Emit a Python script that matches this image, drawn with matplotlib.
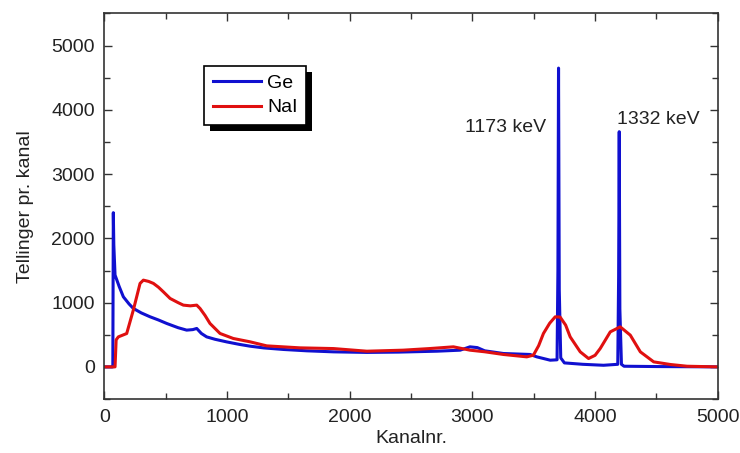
import matplotlib.pyplot as plt
from matplotlib.ticker import MultipleLocator
from matplotlib.patches import Rectangle

plt.rcParams['font.family'] = ['Liberation Sans', 'DejaVu Sans']

# Ge-Detektor
ge_kanal = [0, 60, 68, 72, 76, 86, 120, 154, 200, 235, 300, 371, 440, 507, 600, 670,
            720, 752, 790, 833, 900, 996, 1100, 1187, 1300, 1459, 1650, 1867, 2139,
            2400, 2709, 2900, 2980, 3040, 3100, 3253, 3470, 3525, 3634, 3690, 3697,
            3702, 3708, 3720, 3750, 3900, 4069, 4185, 4192, 4197, 4202, 4215, 4236,
            4500, 5000]
ge_counts = [0, 0, 0, 2400, 1900, 1430, 1250, 1090, 980, 910, 840, 780, 730, 676, 610,
             572, 580, 598, 520, 467, 430, 389, 350, 322, 295, 271, 250, 234, 225,
             230, 244, 260, 312, 300, 250, 208, 193, 156, 104, 110, 1500, 4650, 1200,
             140, 62, 40, 25, 40, 1400, 3660, 900, 40, 10, 5, 0]

# NaI-Detektor
nai_kanal = [0, 86, 95, 113, 181, 235, 290, 317, 360, 399, 440, 480, 535, 600, 643,
             700, 752, 779, 820, 860, 942, 1050, 1187, 1323, 1595, 1867, 2139, 2435,
             2650, 2845, 2980, 3100, 3253, 3443, 3497, 3540, 3579, 3630, 3675, 3715,
             3760, 3797, 3879, 3947, 4000, 4042, 4124, 4205, 4287, 4369, 4478, 4614,
             4750, 5000]
nai_counts = [0, 0, 420, 467, 519, 883, 1299, 1350, 1330, 1299, 1240, 1168, 1065, 1000,
              961, 950, 961, 909, 800, 676, 520, 442, 390, 327, 296, 285, 244, 260,
              285, 312, 260, 235, 193, 156, 182, 330, 520, 680, 779, 775, 650, 467, 234,
              130, 180, 286, 545, 623, 494, 234, 78, 37, 10, 0]

fig = plt.figure(figsize=(7.4, 4.53), dpi=100)
ax = fig.add_axes([0.1412, 0.1192, 0.8287, 0.8510])

ge_line, = ax.plot(ge_kanal, ge_counts, color='#1010d0', lw=2.2, label='Ge')
nai_line, = ax.plot(nai_kanal, nai_counts, color='#e01010', lw=2.2, label='NaI')

ax.set_xlim(0, 5000)
ax.set_ylim(-500, 5500)
ax.xaxis.set_major_locator(MultipleLocator(1000))
ax.xaxis.set_minor_locator(MultipleLocator(500))
ax.yaxis.set_minor_locator(MultipleLocator(500))
ax.set_yticks([0, 1000, 2000, 3000, 4000, 5000])
ax.tick_params(which='both', direction='in', top=True, right=True, labelsize=14,
               color='#333333', labelcolor='#222222', pad=7)
ax.tick_params(which='major', length=6, width=1)
ax.tick_params(which='minor', length=4, width=1)
for s in ax.spines.values():
    s.set_color('#333333')
    s.set_linewidth(1.2)

ax.set_xlabel('Kanalnr.', fontsize=14, color='#222222', labelpad=3)
ax.set_ylabel('Tellinger pr. kanal', fontsize=14, color='#222222', labelpad=12)

ax.text(3600, 3720, '1173 keV', fontsize=14, ha='right', va='center', color='#222222')
ax.text(4515, 3850, '1332 keV', fontsize=14, ha='center', va='center', color='#222222')

# Legende mit schwarzem Schatten
leg = ax.legend(handles=[ge_line, nai_line], loc='upper left',
                bbox_to_anchor=(0.162, 0.865), fontsize=14, fancybox=False,
                edgecolor='black', framealpha=1, borderpad=0.45, handlelength=2.5,
                handletextpad=0.3, labelspacing=0.35, borderaxespad=0)
leg.get_frame().set_linewidth(1.2)
leg.set_zorder(6)
fig.canvas.draw()
bb = leg.get_window_extent().transformed(fig.transFigure.inverted())
shadow = Rectangle((bb.x0 + 6 / 740, bb.y0 - 6 / 453), bb.width, bb.height,
                   transform=fig.transFigure, facecolor='black', edgecolor='none',
                   zorder=5, clip_on=False)
ax.add_patch(shadow)

fig.savefig('out.png', dpi=100)
